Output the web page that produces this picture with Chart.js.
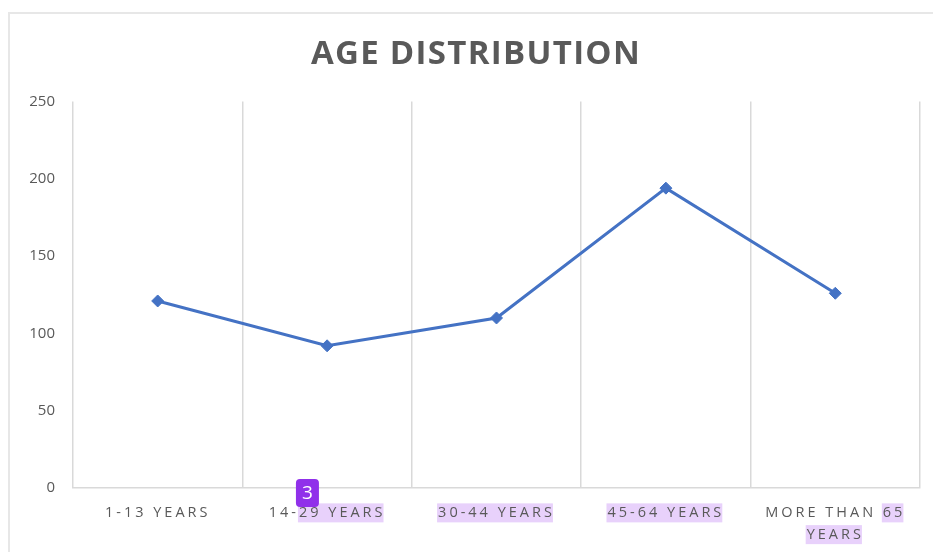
<!DOCTYPE html>
<html><head><meta charset="utf-8">
<script src="https://cdn.jsdelivr.net/npm/chart.js@4"></script>
<style>
html,body{margin:0;padding:0;background:#fff;width:933px;height:552px;overflow:hidden;}
#frame{position:absolute;left:8px;top:12px;width:930px;height:545px;border-left:2px solid #e7e7e7;border-top:2px solid #e7e7e7;}
#wrap{position:absolute;left:0;top:0;width:933px;height:552px;}
</style></head><body>
<div id="frame"></div>
<div id="wrap"><canvas id="c"></canvas></div>
<script>
const categories = ['1-13 YEARS', '14-29 YEARS', '30-44 YEARS', '45-64 YEARS', ['MORE THAN 65', 'YEARS']];
const values = [121, 92, 110, 194, 126];
const yMin = 0, yMax = 250, yStep = 50;
const titleText = 'AGE DISTRIBUTION';
// highlighted spans in the x labels: [category, line, startChar, endChar]
const highlightSpans = [[1, 0, 3, 11], [2, 0, 0, 11], [3, 0, 0, 11], [4, 0, 10, 12], [4, 1, 0, 5]];
const badgeText = '3';
const badgeCategory = 1;

const X_LS = 3, TITLE_LS = 1.3, TITLE_SHIFT = 16;
const deco = {
  id: 'deco',
  afterLayout(chart) {
    const sx = chart.scales.x;
    if (!sx._lsPatched) {
      const orig = sx.drawLabels;
      sx.drawLabels = function (a) { const c = this.ctx; c.save(); c.letterSpacing = X_LS + 'px'; orig.call(this, a); c.restore(); };
      sx._lsPatched = true;
    }
    const tb = chart.titleBlock;
    if (tb && !tb._lsPatched) {
      const o = tb.draw;
      tb.draw = function () { const c = this.ctx; c.save(); c.letterSpacing = TITLE_LS + 'px'; c.translate(TITLE_SHIFT, 0); o.apply(this, arguments); c.restore(); };
      tb._lsPatched = true;
    }
  },
  _spans(chart) {
    const ctx = chart.ctx, sx = chart.scales.x;
    const items = sx.getLabelItems();
    const out = [];
    ctx.save();
    ctx.letterSpacing = X_LS + 'px';
    highlightSpans.forEach(([ci, li, s, e]) => {
      const it = items[ci]; if (!it) return;
      const lines = Array.isArray(it.label) ? it.label : [it.label];
      ctx.font = it.font.string;
      const line = lines[li];
      const full = ctx.measureText(line).width;
      const [x, y] = it.options.translation;
      const left = x - full / 2;
      const pre = ctx.measureText(line.slice(0, s)).width;
      const w = ctx.measureText(line.slice(s, e)).width;
      const cy = y + it.textOffset + li * it.font.lineHeight;
      out.push({ ci, li, x: left + pre - 1, w: w - X_LS + 2, cy });
    });
    ctx.restore();
    return out;
  },
  beforeDraw(chart) {
    const ctx = chart.ctx;
    const spans = this._spans(chart);
    ctx.save();
    ctx.fillStyle = '#e8d1fb';
    spans.forEach(s => ctx.fillRect(s.x, s.cy - 9.5, s.w, 19));
    ctx.restore();
  },
  afterDraw(chart) {
    const ctx = chart.ctx;
    const spans = this._spans(chart);
    const s = spans.find(p => p.ci === badgeCategory && p.li === 0);
    if (!s) return;
    const bx = s.x - 2, by = s.cy - 34, bw = 23, bh = 28;
    ctx.save();
    ctx.fillStyle = '#9030ea';
    ctx.beginPath();
    ctx.roundRect(bx, by, bw, bh, 4);
    ctx.fill();
    ctx.fillStyle = '#ffffff';
    ctx.font = '19px "Open Sans"';
    ctx.textAlign = 'center';
    ctx.textBaseline = 'middle';
    ctx.fillText(badgeText, bx + bw / 2, by + bh / 2 + 1);
    ctx.restore();
  }
};

new Chart(document.getElementById('c'), {
  type: 'line',
  data: {
    labels: categories,
    datasets: [{
      data: values,
      borderColor: '#4472c4',
      backgroundColor: '#4472c4',
      borderWidth: 3,
      pointStyle: 'rectRot',
      pointRadius: 6,
      pointBorderWidth: 1,
      pointHoverRadius: 6,
      tension: 0,
      fill: false
    }]
  },
  options: {
    responsive: true,
    maintainAspectRatio: false,
    animation: false,
    layout: { padding: { left: 0, right: 13, top: 0, bottom: 0 } },
    plugins: {
      legend: { display: false },
      tooltip: { enabled: false },
      title: {
        display: true,
        text: titleText,
        color: '#595959',
        font: { family: 'Open Sans', size: 33, weight: 'bold', lineHeight: 1.2 },
        padding: { top: 35, bottom: 27 }
      }
    },
    scales: {
      x: {
        offset: true,
        grid: { display: true, offset: true, color: '#d9d9d9', lineWidth: 1.5, drawTicks: false },
        border: { display: true, color: '#d9d9d9', width: 1.5 },
        ticks: { color: '#595959', font: { family: 'Open Sans', size: 14.5, lineHeight: 1.5 }, padding: 14, maxRotation: 0, autoSkip: false },
        afterFit(s) { s.height = 64; }
      },
      y: {
        min: yMin, max: yMax,
        grid: { display: false, drawTicks: false },
        border: { display: false },
        ticks: { stepSize: yStep, color: '#595959', font: { family: 'Open Sans', size: 15 }, padding: 18 },
        afterFit(s) { s.width = 73; }
      }
    }
  },
  plugins: [deco]
});
</script>
</body></html>
